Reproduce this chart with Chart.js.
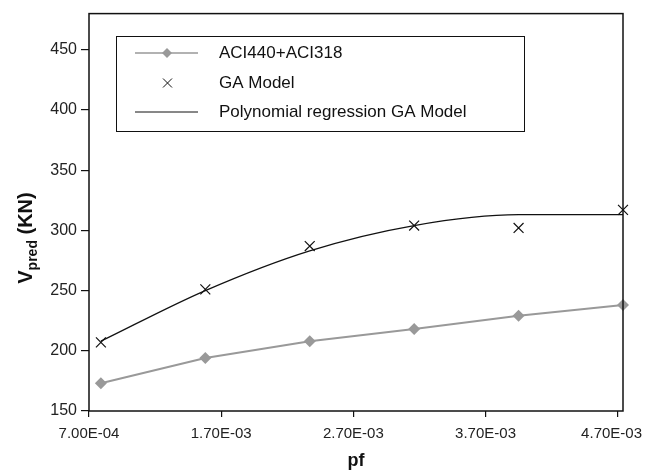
<!DOCTYPE html>
<html>
<head>
<meta charset="utf-8">
<script src="https://cdn.jsdelivr.net/npm/chart.js"></script>
<style>
  html, body { margin: 0; padding: 0; background: #fff; }
  #wrap { width: 645px; height: 472px; }
</style>
</head>
<body>
<div id="wrap"><canvas id="myChart" width="645" height="472"></canvas></div>
<script>
// data
const pf = [0.00079, 0.00158, 0.00237, 0.00316, 0.00395, 0.00474];
const aciValues = [173, 194, 208, 218, 229, 238];
const gaValues = [207, 251, 287, 304, 302, 317];
const polyValues = [208, 250, 283, 304, 313, 313];

const xTickValues = [0.0007, 0.0017, 0.0027, 0.0037, 0.0047];
const xTickLabels = ['7.00E-04', '1.70E-03', '2.70E-03', '3.70E-03', '4.70E-03'];
const yTickValues = [150, 200, 250, 300, 350, 400, 450];

const seriesNames = ['ACI440+ACI318', 'GA Model', 'Polynomial regression GA Model'];

const FONT = '"Liberation Sans", Arial, sans-serif';

function toPoints(xs, ys) {
    return xs.map((x, i) => ({x: x, y: ys[i]}));
}

// keep the last x label inside the canvas (right aligned at the edge)
const lastLabelFix = {
    id: 'lastLabelFix',
    beforeDraw(chart) {
        const items = chart.scales.x.getLabelItems();
        const last = items[items.length - 1];
        if (last) {
            last.options.textAlign = 'right';
            last.options.translation[0] = 642;
        }
    }
};

// box around plot, y title with subscript, legend in a frame
const decorations = {
    id: 'decorations',
    afterDraw(chart) {
        const ctx = chart.ctx;
        const a = chart.chartArea;
        ctx.save();
        ctx.strokeStyle = '#111';
        ctx.lineWidth = 1.5;
        ctx.strokeRect(a.left, a.top, a.right - a.left, a.bottom - a.top);

        // y title
        ctx.fillStyle = '#111';
        ctx.translate(32, 238);
        ctx.rotate(-Math.PI / 2);
        ctx.textBaseline = 'alphabetic';
        ctx.font = 'bold 20px ' + FONT;
        const w1 = ctx.measureText('V').width;
        ctx.font = 'bold 14px ' + FONT;
        const w2 = ctx.measureText('pred').width;
        ctx.font = 'bold 20px ' + FONT;
        const w3 = ctx.measureText(' (KN)').width;
        let x = -(w1 + w2 + w3) / 2;
        ctx.fillText('V', x, 0);
        x += w1;
        ctx.font = 'bold 14px ' + FONT;
        ctx.fillText('pred', x, 5);
        x += w2;
        ctx.font = 'bold 20px ' + FONT;
        ctx.fillText(' (KN)', x, 0);
        ctx.restore();

        // legend
        ctx.save();
        ctx.fillStyle = '#fff';
        ctx.fillRect(116, 36, 408, 95);
        ctx.strokeStyle = '#111';
        ctx.lineWidth = 1;
        ctx.strokeRect(116.5, 36.5, 408, 95);
        ctx.font = '17px ' + FONT;
        ctx.textBaseline = 'middle';
        const rows = [53, 83, 112];
        const ds = chart.data.datasets;
        // row 1: gray line + diamond
        ctx.strokeStyle = ds[0].borderColor;
        ctx.lineWidth = 1.5;
        ctx.beginPath(); ctx.moveTo(135, rows[0]); ctx.lineTo(198, rows[0]); ctx.stroke();
        ctx.fillStyle = ds[0].backgroundColor;
        ctx.beginPath();
        ctx.moveTo(167, rows[0] - 5); ctx.lineTo(172, rows[0]); ctx.lineTo(167, rows[0] + 5); ctx.lineTo(162, rows[0]);
        ctx.closePath(); ctx.fill();
        // row 2: x mark
        ctx.strokeStyle = '#111';
        ctx.lineWidth = 1;
        ctx.beginPath();
        ctx.moveTo(163, rows[1] - 4.5); ctx.lineTo(172, rows[1] + 4.5);
        ctx.moveTo(172, rows[1] - 4.5); ctx.lineTo(163, rows[1] + 4.5);
        ctx.stroke();
        // row 3: black line
        ctx.beginPath(); ctx.moveTo(135, rows[2]); ctx.lineTo(198, rows[2]); ctx.stroke();
        ctx.fillStyle = '#111';
        seriesNames.forEach((n, i) => ctx.fillText(n, 219, rows[i]));
        ctx.restore();
    }
};

new Chart(document.getElementById('myChart'), {
    type: 'scatter',
    data: {
        datasets: [{
            label: seriesNames[0],
            data: toPoints(pf, aciValues),
            showLine: true,
            borderColor: '#999999',
            backgroundColor: '#999999',
            borderWidth: 2,
            pointStyle: 'rectRot',
            pointRadius: 6,
            pointBorderWidth: 0,
            clip: false,
        }, {
            label: seriesNames[1],
            data: toPoints(pf, gaValues),
            showLine: false,
            borderColor: '#111',
            backgroundColor: '#111',
            pointStyle: 'crossRot',
            pointRadius: 7,
            pointBorderWidth: 1.2,
            clip: false,
        }, {
            label: seriesNames[2],
            data: toPoints(pf, polyValues),
            showLine: true,
            borderColor: '#111',
            borderWidth: 1.2,
            pointRadius: 0,
            cubicInterpolationMode: 'monotone',
            clip: false,
        }]
    },
    options: {
        responsive: false,
        animation: false,
        events: [],
        layout: {padding: {left: 0, top: 11, right: 22, bottom: 0}},
        plugins: {
            legend: {display: false},
            tooltip: {enabled: false},
        },
        scales: {
            x: {
                type: 'linear',
                min: 0.0007,
                max: 0.00474,
                afterBuildTicks: (scale) => { scale.ticks = xTickValues.map(v => ({value: v})); },
                afterFit: (scale) => {
                    scale.height = 61;
                    scale.paddingLeft = 0;
                    scale.paddingRight = 0;
                },
                grid: {drawOnChartArea: false, tickLength: 6, color: '#111', lineWidth: 1.2},
                border: {display: false},
                ticks: {
                    color: '#222',
                    font: {family: FONT, size: 15},
                    padding: 8,
                    maxRotation: 0,
                    autoSkip: false,
                    callback: (v) => xTickLabels[xTickValues.indexOf(v)],
                },
                title: {
                    display: true,
                    text: 'pf',
                    color: '#111',
                    font: {family: FONT, size: 18, weight: 'bold'},
                    padding: {top: 0, bottom: 0},
                },
            },
            y: {
                min: 150,
                max: 480,
                afterBuildTicks: (scale) => { scale.ticks = yTickValues.map(v => ({value: v})); },
                afterFit: (scale) => { scale.width = 89; },
                grid: {drawOnChartArea: false, tickLength: 8, color: '#111', lineWidth: 1.2},
                border: {display: false},
                ticks: {
                    color: '#222',
                    font: {family: FONT, size: 16},
                    padding: 4,
                },
            }
        }
    },
    plugins: [lastLabelFix, decorations],
});
</script>
</body>
</html>
